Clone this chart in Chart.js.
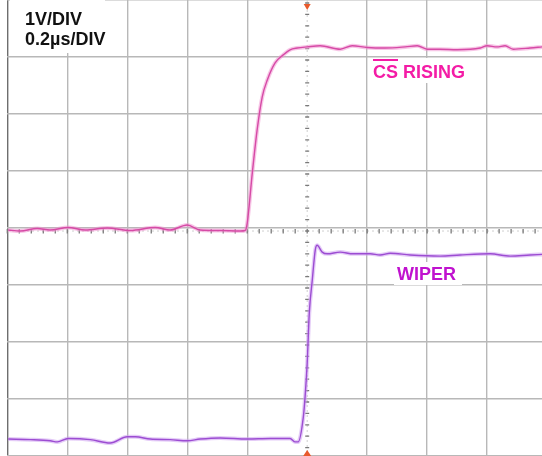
<!DOCTYPE html>
<html>
<head>
<meta charset="utf-8">
<title>CS rising / wiper</title>
<script src="https://cdn.jsdelivr.net/npm/chart.js@4.4.1/dist/chart.umd.min.js"></script>
<style>
  html, body { margin: 0; padding: 0; background: #fff; }
  #wrap { position: relative; width: 542px; height: 456px; }
</style>
</head>
<body>
<div id="wrap"><canvas id="chartCanvas"></canvas></div>
<script>
// time in µs (0.2 µs per division), voltage in V (1 V per division)
const csTime = [-0.997, -0.957, -0.9, -0.857, -0.797, -0.74, -0.667, -0.59, -0.507, -0.457, -0.4, -0.357,
  -0.29, -0.223, -0.207, -0.2, -0.183, -0.167, -0.15, -0.133, -0.107, -0.08, -0.057, -0.033, 0,
  0.043, 0.11, 0.15, 0.2, 0.26, 0.327, 0.367, 0.4, 0.443, 0.5, 0.577, 0.6, 0.633, 0.66, 0.687, 0.743, 0.783];
const csVolt = [0.018, 0, 0.044, 0.018, 0.061, 0.018, 0.053, 0.009, 0.061, 0.018, 0.105, 0.018,
  0.009, 0, 0.009, 0.14, 1.02, 1.77, 2.35, 2.65, 2.95, 3.09, 3.18, 3.21, 3.23,
  3.25, 3.19, 3.25, 3.22, 3.21, 3.23, 3.25, 3.19, 3.19, 3.18, 3.21, 3.25, 3.23, 3.25, 3.19, 3.21, 3.23];

const wiperTime = [-0.997, -0.923, -0.857, -0.833, -0.797, -0.723, -0.657, -0.6, -0.573, -0.523, -0.457, -0.4,
  -0.357, -0.29, -0.2, -0.123, -0.057, -0.04, -0.03, -0.013, -0.007, 0, 0.007, 0.017, 0.027, 0.033,
  0.05, 0.067, 0.11, 0.153, 0.21, 0.243, 0.277, 0.343, 0.443, 0.51, 0.61, 0.677, 0.743, 0.783];
const wiperVolt = [-3.65, -3.66, -3.68, -3.70, -3.64, -3.66, -3.72, -3.61, -3.61, -3.65, -3.66, -3.68,
  -3.65, -3.63, -3.65, -3.64, -3.64, -3.70, -3.70, -3.27, -2.91, -2.32, -1.44, -0.86, -0.33, -0.25,
  -0.37, -0.40, -0.37, -0.40, -0.40, -0.42, -0.39, -0.42, -0.44, -0.42, -0.40, -0.44, -0.42, -0.41];

const scaleLabels = ['1V/DIV', '0.2µs/DIV'];
const traceLabels = ['CS RISING', 'WIPER'];

function toPoints(xs, ys) {
    return xs.map((x, i) => ({ x: x, y: ys[i] }));
}

const csPoints = toPoints(csTime, csVolt);
const wiperPoints = toPoints(wiperTime, wiperVolt);

// center axes with minor ticks, trigger markers, labels
const scopeDecor = {
    id: 'scopeDecor',
    beforeDatasetsDraw(chart) {
        const ctx = chart.ctx;
        const xs = chart.scales.x;
        const ys = chart.scales.y;
        const x0 = xs.getPixelForValue(0);
        const y0 = ys.getPixelForValue(0);
        const area = chart.chartArea;

        ctx.save();
        ctx.strokeStyle = '#cfcfcf';
        ctx.lineWidth = 1;
        ctx.setLineDash([2, 3]);
        ctx.beginPath();
        ctx.moveTo(area.left, y0);
        ctx.lineTo(area.right, y0);
        ctx.moveTo(x0, area.top);
        ctx.lineTo(x0, area.bottom);
        ctx.stroke();
        ctx.setLineDash([]);

        ctx.strokeStyle = '#7a7a7a';
        ctx.lineWidth = 1.3;
        ctx.beginPath();
        for (let i = -25; i <= 20; i++) {
            const px = xs.getPixelForValue(i * 0.04);
            ctx.moveTo(px, y0 - 2);
            ctx.lineTo(px, y0 + 2.5);
        }
        for (let i = -20; i <= 20; i++) {
            const py = ys.getPixelForValue(i * 0.2);
            ctx.moveTo(x0 - 2, py);
            ctx.lineTo(x0 + 2, py);
        }
        ctx.stroke();
        ctx.restore();
    },
    afterDraw(chart) {
        const ctx = chart.ctx;
        const x0 = chart.scales.x.getPixelForValue(0);
        const area = chart.chartArea;

        ctx.save();
        // white boxes behind the texts
        ctx.fillStyle = '#ffffff';
        ctx.fillRect(10, 0, 95, 53);
        ctx.fillRect(370, 58, 100, 25);
        ctx.fillRect(394, 262, 68, 23);

        ctx.font = 'bold 18px "Liberation Sans", Arial, sans-serif';
        ctx.textBaseline = 'alphabetic';
        ctx.fillStyle = '#111111';
        ctx.fillText(scaleLabels[0], 25, 25);
        ctx.fillText(scaleLabels[1], 25, 45);

        ctx.fillStyle = '#f41ca6';
        ctx.fillText(traceLabels[0], 373, 78);
        const csWidth = ctx.measureText('CS').width;
        ctx.fillRect(373, 59, csWidth, 2);

        ctx.fillStyle = '#c012cf';
        ctx.fillText(traceLabels[1], 397, 280);

        // trigger markers
        ctx.fillStyle = '#e85a2c';
        ctx.beginPath();
        ctx.moveTo(x0 - 3.5, area.top + 4);
        ctx.lineTo(x0 + 3.5, area.top + 4);
        ctx.lineTo(x0, area.top + 10);
        ctx.closePath();
        ctx.fill();
        ctx.beginPath();
        ctx.moveTo(x0 - 4, area.bottom);
        ctx.lineTo(x0 + 4, area.bottom);
        ctx.lineTo(x0, area.bottom - 6);
        ctx.closePath();
        ctx.fill();
        ctx.restore();
    }
};

function gridColor(ctx) {
    const v = ctx.tick ? ctx.tick.value : null;
    if (v === null) return '#b8b8b8';
    if (Math.abs(v) < 1e-6) return 'rgba(0,0,0,0)';
    if (ctx.scale.axis === 'x' && Math.abs(v + 1) < 1e-6) return '#6e6e6e';
    return '#b8b8b8';
}

const canvas = document.getElementById('chartCanvas');
const chart = new Chart(canvas.getContext('2d'), {
    type: 'line',
    data: {
        datasets: [
            { label: traceLabels[0], data: csPoints, borderColor: '#d64aa6', borderWidth: 1.4 },
            { label: traceLabels[1], data: wiperPoints, borderColor: '#9c4cd2', borderWidth: 1.4 },
            { label: 'cs halo', data: csPoints, borderColor: 'rgba(240,150,210,0.55)', borderWidth: 4 },
            { label: 'wiper halo', data: wiperPoints, borderColor: 'rgba(205,160,240,0.55)', borderWidth: 4 }
        ]
    },
    options: {
        responsive: true,
        maintainAspectRatio: false,
        animation: false,
        layout: { padding: { left: 7, right: 0, top: 0, bottom: 0 } },
        elements: {
            point: { radius: 0 },
            line: { cubicInterpolationMode: 'monotone', fill: false }
        },
        plugins: {
            legend: { display: false },
            tooltip: { enabled: false }
        },
        scales: {
            x: {
                type: 'linear',
                min: -1.001,
                max: 0.783,
                border: { display: false },
                ticks: { display: false, stepSize: 0.2, includeBounds: false },
                grid: { color: gridColor, lineWidth: 1.4, drawTicks: false }
            },
            y: {
                type: 'linear',
                min: -3.947,
                max: 4.053,
                border: { display: false },
                ticks: { display: false, stepSize: 1, includeBounds: false },
                grid: { color: gridColor, lineWidth: 1.4, drawTicks: false }
            }
        }
    },
    plugins: [scopeDecor]
});
</script>
</body>
</html>
